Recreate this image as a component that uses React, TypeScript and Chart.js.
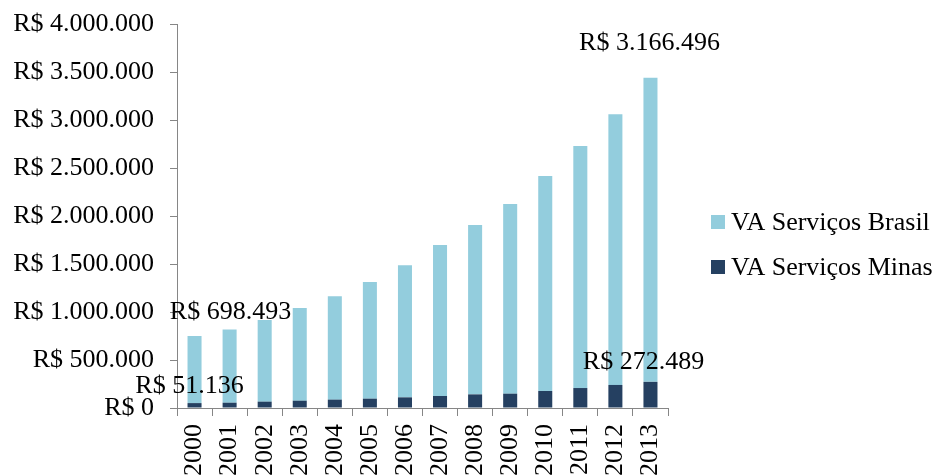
import React, { useEffect, useRef } from "react";
import { Chart, registerables } from "chart.js";

Chart.register(...registerables);

const years = ["2000", "2001", "2002", "2003", "2004", "2005", "2006", "2007", "2008", "2009", "2010", "2011", "2012", "2013"];
const vaMinas = [51136, 55000, 66000, 76000, 87000, 97000, 111000, 125000, 142000, 149000, 177000, 208000, 240000, 272489];
const vaBrasil = [698493, 764000, 851000, 966000, 1076000, 1215000, 1375000, 1573000, 1764000, 1976000, 2240000, 2521000, 2819000, 3166496];
const yTicks = [0, 500000, 1000000, 1500000, 2000000, 2500000, 3000000, 3500000, 4000000];
const labeledIndices = [0, 13];
const seriesNames = ["VA Serviços Minas", "VA Serviços Brasil"];

const FONT = "'Liberation Serif', 'Times New Roman', serif";
const FONT_SIZE = 26;
const COLOR_MINAS = "#254061";
const COLOR_BRASIL = "#93CDDD";
const AXIS_COLOR = "#868686";

const fmt = (v: number) => "R$ " + String(Math.round(v)).replace(/\B(?=(\d{3})+(?!\d))/g, ".");

// label offsets per dataset / labelled index (relative to bar top)
const labelOffsets: Record<number, Record<number, [number, number]>> = {
  0: { 0: [-5, -17], 13: [-7, -20] },
  1: { 0: [36, -24], 13: [-1, -35] },
};

const dataLabelPlugin = {
  id: "dataLabels",
  afterDatasetsDraw(chart: any) {
    const ctx = chart.ctx;
    ctx.save();
    ctx.font = `${FONT_SIZE}px ${FONT}`;
    ctx.fillStyle = "#000";
    ctx.textAlign = "center";
    ctx.textBaseline = "middle";
    chart.data.datasets.forEach((ds: any, di: number) => {
      const meta = chart.getDatasetMeta(di);
      labeledIndices.forEach((idx) => {
        const el = meta.data[idx];
        if (!el) return;
        const [dx, dy] = labelOffsets[di][idx];
        ctx.fillText(fmt(ds.data[idx]), el.x + dx, el.y + dy);
      });
    });
    ctx.restore();
  },
};

const legendPlugin = {
  id: "customLegend",
  afterDraw(chart: any) {
    const ctx = chart.ctx;
    const area = chart.chartArea;
    ctx.save();
    ctx.font = `${FONT_SIZE}px ${FONT}`;
    ctx.textBaseline = "middle";
    ctx.textAlign = "left";
    const x = area.right + 43;
    const items = [1, 0];
    const startY = 222;
    items.forEach((di, i) => {
      const ds = chart.data.datasets[di];
      const cy = startY + i * 45;
      ctx.fillStyle = ds.backgroundColor;
      ctx.fillRect(x, cy - 7, 14, 14);
      ctx.fillStyle = "#000";
      ctx.fillText(ds.label, x + 20, cy + 1);
    });
    ctx.restore();
  },
};

export default function App() {
  const canvasRef = useRef<HTMLCanvasElement | null>(null);

  useEffect(() => {
    document.body.style.margin = "0";
    const canvas = canvasRef.current;
    if (!canvas) return;
    const chart = new Chart(canvas, {
      type: "bar",
      data: {
        labels: years,
        datasets: [
          {
            label: seriesNames[0],
            data: vaMinas,
            backgroundColor: COLOR_MINAS,
            barPercentage: 0.4,
            categoryPercentage: 1,
          },
          {
            label: seriesNames[1],
            data: vaBrasil,
            backgroundColor: COLOR_BRASIL,
            barPercentage: 0.4,
            categoryPercentage: 1,
          },
        ],
      },
      options: {
        animation: false,
        responsive: false,
        devicePixelRatio: 1,
        layout: { padding: { top: 24, right: 274, bottom: 0, left: 0 } },
        plugins: {
          legend: { display: false },
          tooltip: { enabled: false },
        },
        scales: {
          x: {
            stacked: true,
            border: { display: true, color: AXIS_COLOR, width: 1 },
            grid: {
              display: true,
              drawOnChartArea: false,
              drawTicks: true,
              tickLength: 8,
              color: AXIS_COLOR,
              offset: true,
            },
            ticks: {
              minRotation: 90,
              maxRotation: 90,
              autoSkip: false,
              padding: 8,
              color: "#000",
              font: { family: FONT, size: FONT_SIZE },
            },
            afterFit(scale: any) {
              scale.height = 68;
              scale.paddingLeft = 0;
              scale.paddingRight = 0;
            },
          },
          y: {
            stacked: true,
            min: 0,
            max: 4000000,
            border: { display: true, color: AXIS_COLOR, width: 1 },
            grid: {
              display: true,
              drawOnChartArea: false,
              drawTicks: true,
              tickLength: 7,
              color: AXIS_COLOR,
            },
            afterBuildTicks(scale: any) {
              scale.ticks = yTicks.map((v) => ({ value: v }));
            },
            ticks: {
              padding: 16,
              color: "#000",
              font: { family: FONT, size: FONT_SIZE },
              callback: (v: any) => fmt(Number(v)),
            },
            afterFit(scale: any) {
              scale.width = 177;
              scale.paddingTop = 0;
              scale.paddingBottom = 0;
            },
          },
        },
      },
      plugins: [dataLabelPlugin, legendPlugin],
    });
    return () => chart.destroy();
  }, []);

  return <canvas ref={canvasRef} width={942} height={476} style={{ display: "block" }} />;
}
